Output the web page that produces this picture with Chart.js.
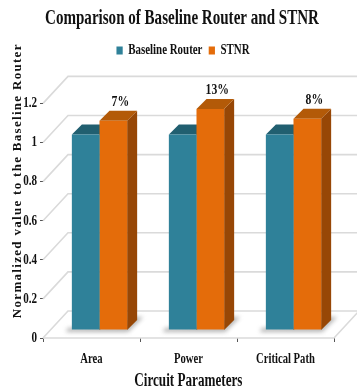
<!DOCTYPE html>
<html><head><meta charset="utf-8">
<style>html,body{margin:0;padding:0;background:#fff}#w{width:357px;height:390px}</style>
<script src="https://cdn.jsdelivr.net/npm/chart.js@4"></script></head>
<body><div id="w"><canvas id="c"></canvas></div>
<script>
const categories = ["Area", "Power", "Critical Path"];
const baselineRouter = [1.0, 1.0, 1.0];
const stnr = [1.07, 1.13, 1.08];
const percentLabels = ["7%", "13%", "8%"];
const yTicks = [0, 0.2, 0.4, 0.6, 0.8, 1, 1.2];
const SERIF = '"Liberation Serif"';
const DEPTH_X = 25, DEPTH_Y = 27;     // wall depth
const BAR_DX = 8, BAR_DY = 8;         // bars sit inside the depth
const BAR_SX = 10, BAR_SY = 10;       // bar extrusion

function condenseLabels(chart, s, sx) {
  const ctx = chart.ctx, orig = s.drawLabels;
  s._computeLabelArea = () => undefined;
  s.drawLabels = function (ca) {
    const items = this.getLabelItems(ca);
    this._labelItems = items.map(it => ({...it, options: {...it.options,
      translation: [it.options.translation[0] / sx, it.options.translation[1]]}}));
    ctx.save(); ctx.scale(sx, 1); orig.call(this, ca); ctx.restore();
    this._labelItems = items;
  };
}
function condenseBlock(chart, blk, sx, cx, shift) {
  const ctx = chart.ctx, orig = blk.draw;
  blk.draw = function () {
    ctx.save(); ctx.translate(cx + shift, 0); ctx.scale(sx, 1); ctx.translate(-cx, 0);
    orig.call(this); ctx.restore();
  };
}
let patched = false;
const scene = {
  id: 'scene',
  beforeInit(chart) {
    const lg = chart.legend, f = lg.fit;
    lg.fit = function () { f.call(this); this.height += 36; };
  },
  beforeDraw(chart) {
    if (patched) return; patched = true;
    const {x, y} = chart.scales, ctx = chart.ctx;
    condenseLabels(chart, x, 0.76);
    condenseLabels(chart, y, 0.74);
    const ot = y.drawTitle;
    y.drawTitle = function () { ctx.save(); ctx.translate(10, -40); ctx.letterSpacing = '1.3px'; ot.call(this); ctx.restore(); };
    const oxt = x.drawTitle;
    x.drawTitle = function () { ctx.save(); ctx.translate(188, 2); ctx.scale(0.73, 1); ctx.translate(-188, 0); oxt.call(this); ctx.restore(); };
    condenseBlock(chart, chart.titleBlock, 0.82, 167, 15);
    condenseBlock(chart, chart.legend, 0.78, 167, 16);
  },
  beforeDatasetsDraw(chart) {
    const {x, y} = chart.scales, ctx = chart.ctx;
    const l = x.left, r = x.right;
    ctx.save();
    // walls
    ctx.strokeStyle = '#DADADA'; ctx.lineWidth = 1.6;
    yTicks.forEach(v => {
      const p = y.getPixelForValue(v);
      ctx.beginPath();
      ctx.moveTo(l, p); ctx.lineTo(l + DEPTH_X, p - DEPTH_Y); ctx.lineTo(357, p - DEPTH_Y);
      ctx.stroke();
    });
    const b = y.getPixelForValue(0);
    ctx.beginPath(); ctx.moveTo(l, b); ctx.lineTo(r, b); ctx.lineTo(r + DEPTH_X, b - DEPTH_Y); ctx.stroke();
    // floor shadow of each bar group
    const m0 = chart.getDatasetMeta(0), m1 = chart.getDatasetMeta(1);
    ctx.filter = 'blur(2px)'; ctx.fillStyle = 'rgba(120,120,120,0.55)';
    categories.forEach((c, i) => {
      const a = m0.data[i], e = m1.data[i], fy = b - BAR_DY;
      const lft = a.x - a.width / 2 + BAR_DX, rgt = e.x + e.width / 2 + BAR_DX;
      ctx.beginPath();
      ctx.moveTo(lft - 6, fy + 2); ctx.lineTo(rgt + 1, fy + 2);
      ctx.lineTo(rgt + 16, fy - 13); ctx.lineTo(rgt + 5, fy - 13); ctx.lineTo(rgt, fy - 4); ctx.lineTo(lft - 4, fy - 2);
      ctx.closePath(); ctx.fill();
    });
    ctx.filter = 'none';
    // extruded faces
    const faces = (m, top, side) => m.data.forEach(el => {
      const L = el.x - el.width / 2 + BAR_DX, R = el.x + el.width / 2 + BAR_DX;
      const T = el.y - BAR_DY, B = b - BAR_DY;
      ctx.fillStyle = side; ctx.beginPath();
      ctx.moveTo(R, T); ctx.lineTo(R + BAR_SX, T - BAR_SY); ctx.lineTo(R + BAR_SX, B - BAR_SY); ctx.lineTo(R, B);
      ctx.closePath(); ctx.fill();
      ctx.fillStyle = top; ctx.beginPath();
      ctx.moveTo(L, T); ctx.lineTo(L + BAR_SX, T - BAR_SY); ctx.lineTo(R + BAR_SX, T - BAR_SY); ctx.lineTo(R, T);
      ctx.closePath(); ctx.fill();
    });
    faces(m0, '#215F70', '#1C5060');
    faces(m1, '#B35A08', '#974706');
    ctx.restore();
    ctx.save(); ctx.translate(BAR_DX, -BAR_DY);
  },
  afterDatasetsDraw(chart) {
    const ctx = chart.ctx;
    ctx.restore();
    const m1 = chart.getDatasetMeta(1);
    ctx.save();
    ctx.fillStyle = '#111'; ctx.textAlign = 'center'; ctx.textBaseline = 'alphabetic';
    ctx.font = 'bold 15px ' + SERIF;
    m1.data.forEach((el, i) => {
      ctx.save();
      ctx.translate(el.x + BAR_DX + 7, el.y - BAR_DY - 15);
      ctx.scale(0.78, 1);
      ctx.fillText(percentLabels[i], 0, 0);
      ctx.restore();
    });
    ctx.restore();
  }
};
new Chart(document.getElementById('c'), {
  type: 'bar',
  data: { labels: categories, datasets: [
    { label: 'Baseline Router', data: baselineRouter, backgroundColor: '#2F8199', borderWidth: 0, clip: false },
    { label: 'STNR', data: stnr, backgroundColor: '#E46C0A', borderWidth: 0, clip: false }
  ]},
  plugins: [scene],
  options: {
    responsive: true, maintainAspectRatio: false, animation: false,
    layout: { padding: { left: 0, right: 23, top: 5, bottom: 0 } },
    datasets: { bar: { categoryPercentage: 0.57, barPercentage: 1 } },
    plugins: {
      tooltip: { enabled: false },
      title: { display: true, text: 'Comparison of Baseline Router and STNR', color: '#111',
        font: { family: SERIF, size: 22, weight: 'bold' }, padding: { top: 0, bottom: 4 } },
      legend: { position: 'top', labels: { color: '#111', boxWidth: 8, boxHeight: 8, padding: 8,
        font: { family: SERIF, size: 14, weight: 'bold' } } }
    },
    scales: {
      x: {
        grid: { drawOnChartArea: false, color: '#555', tickLength: 4, offset: true },
        border: { display: false },
        ticks: { color: '#111', padding: 9, maxRotation: 0, font: { family: SERIF, size: 14, weight: 'bold' } },
        title: { display: true, text: 'Circuit Parameters', color: '#111', padding: { top: 4, bottom: 0 },
          font: { family: SERIF, size: 18, weight: 'bold' } },
        afterFit(s) { s.height = 52; }
      },
      y: {
        min: 0, max: 1.2,
        afterBuildTicks(s) { s.ticks = yTicks.map(v => ({ value: v })); },
        grid: { drawOnChartArea: false, color: '#555', tickLength: 3 },
        border: { display: false },
        ticks: { color: '#111', padding: 3, font: { family: SERIF, size: 15, weight: 'bold' }, callback: v => String(v) },
        title: { display: true, text: 'Normalized value to the Baseline Router', color: '#111', padding: 0,
          font: { family: SERIF, size: 13, weight: 'bold' } },
        afterFit(s) { s.width = 43; }
      }
    }
  }
});
</script></body></html>
